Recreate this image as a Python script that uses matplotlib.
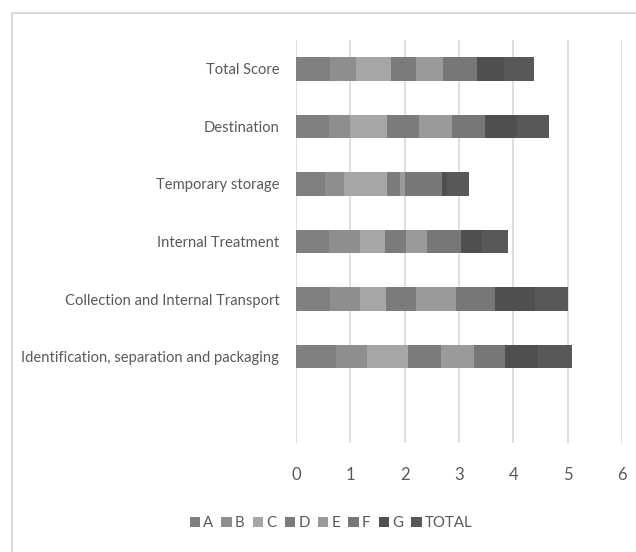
import matplotlib
matplotlib.use("Agg")
import matplotlib.pyplot as plt
from matplotlib.patches import Rectangle
import numpy as np

plt.rcParams['font.family'] = ['Lato', 'DejaVu Sans']

categories = ["Identification, separation and packaging",
              "Collection and Internal Transport",
              "Internal Treatment",
              "Temporary storage",
              "Destination",
              "Total Score"]
series_names = ["A", "B", "C", "D", "E", "F", "G", "TOTAL"]
A = [0.74, 0.62, 0.60, 0.54, 0.61, 0.62]
B = [0.57, 0.56, 0.58, 0.34, 0.39, 0.49]
C = [0.76, 0.47, 0.45, 0.80, 0.68, 0.63]
D = [0.60, 0.56, 0.40, 0.23, 0.59, 0.47]
E = [0.60, 0.73, 0.39, 0.10, 0.61, 0.50]
F = [0.57, 0.73, 0.61, 0.67, 0.59, 0.63]
G = [0.61, 0.73, 0.40, 0.10, 0.60, 0.48]
TOTAL = [0.63, 0.61, 0.48, 0.41, 0.58, 0.56]
series = [A, B, C, D, E, F, G, TOTAL]
colors = ["#808080", "#8e8e8e", "#a6a6a6", "#7b7b7b", "#9a9a9a", "#777777", "#4f4f4f", "#585858"]
xticks = [0, 1, 2, 3, 4, 5, 6]

fig = plt.figure(figsize=(6.36, 5.52), dpi=100)
ax = fig.add_axes([296/636, (552-443)/552, (622-296)/636, (443-40)/552])

y = np.arange(len(categories))
left = np.zeros(len(categories))
for name, vals, col in zip(series_names, series, colors):
    ax.barh(y, vals, left=left, height=0.41, color=col, label=name, zorder=3)
    left += np.array(vals)

ax.set_xlim(0, 6)
ax.set_ylim(-1.5, 5.5)
ax.set_xticks(xticks)
ax.set_xticklabels([str(t) for t in xticks])
ax.set_yticks(y)
ax.set_yticklabels(categories)
ax.grid(axis='x', color='#d9d9d9', linewidth=1.2, zorder=0)
for s in ax.spines.values():
    s.set_visible(False)
ax.tick_params(axis='both', length=0, colors='#595959', labelsize=10.6)
ax.tick_params(axis='x', labelsize=12, pad=17)
ax.tick_params(axis='y', pad=12)

fig.legend(loc='center', bbox_to_anchor=(331/636, 1 - 523/552), ncol=8, frameon=False,
           handlelength=0.7, handleheight=0.7, handletextpad=0.2, columnspacing=0.55,
           fontsize=10.8, labelcolor='#595959')

fig.patches.append(Rectangle((12/636, -0.1), 1.2, 1 - 13/552 + 0.1, transform=fig.transFigure,
                             fill=False, edgecolor='#d9d9d9', linewidth=1.5))

fig.savefig("out.png", dpi=100)
